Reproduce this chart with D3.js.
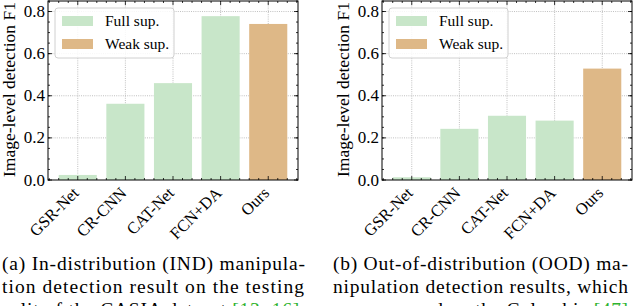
<!DOCTYPE html>
<html lang="en">
<head>
<meta charset="UTF-8">
<title>IND / OOD detection F1</title>
<script src="https://d3js.org/d3.v7.min.js"></script>
<style>
    body { margin: 0; background: #ffffff; }
    svg { display: block; }
    .grid line { stroke: #b0b0b0; stroke-width: 0.8px; stroke-dasharray: 1,1.2; }
</style>
</head>
<body>
<svg width="640" height="306"></svg>
<script>
    // data
    var methods    = ["GSR-Net", "CR-CNN", "CAT-Net", "FCN+DA", "Ours"];
    var supervision = ["full", "full", "full", "full", "weak"];
    var indScores  = [0.024, 0.362, 0.460, 0.778, 0.741];
    var oodScores  = [0.013, 0.243, 0.305, 0.282, 0.529];
    var yTicks     = [0.0, 0.2, 0.4, 0.6, 0.8];
    var legendLabels = ["Full sup.", "Weak sup."];
    var captionA = ["(a) In-distribution (IND) manipula-",
                    "tion detection result on the testing",
                    "split of the CASIA dataset [13, 16]."];
    var captionB = ["(b) Out-of-distribution (OOD) ma-",
                    "nipulation detection results, which",
                    "are measured on the Columbia [47]"];

    var colors = { full: "#c8e6c9", weak: "#deb887" };
    var serif = "'Liberation Serif', 'Times New Roman', Times, serif";

    var svg = d3.select("svg");

    function drawPanel(left, values) {
        var width = 250, height = 179, top = 1;
        var g = svg.append("g").attr("transform", "translate(" + left + "," + top + ")");

        var x = d3.scaleBand().domain(methods).range([0, width])
            .paddingInner(0.2).paddingOuter(0.225);
        var y = d3.scaleLinear().domain([0, 0.85]).range([height, 0]);
        var step = x.step();
        function cx(d) { return x(d) + x.bandwidth() / 2; }

        // grid
        var grid = g.append("g").attr("class", "grid");
        grid.selectAll(".gy").data(yTicks.slice(1)).enter().append("line")
            .attr("x1", 0).attr("x2", width)
            .attr("y1", function(d) { return y(d); })
            .attr("y2", function(d) { return y(d); });
        grid.selectAll(".gx").data(methods).enter().append("line")
            .attr("x1", cx).attr("x2", cx)
            .attr("y1", 0).attr("y2", height);

        // bars
        g.selectAll("rect.bar").data(methods).enter().append("rect")
            .attr("class", "bar")
            .attr("x", function(d) { return x(d); })
            .attr("width", x.bandwidth())
            .attr("y", function(d, i) { return y(values[i]); })
            .attr("height", function(d, i) { return height - y(values[i]); })
            .attr("fill", function(d, i) { return colors[supervision[i]]; });

        // ticks (inward, all four sides)
        var minorY = d3.range(0, 0.851, 0.05);
        var minorX = [];
        methods.forEach(function(m) {
            [-2, -1, 1, 2].forEach(function(k) { minorX.push(cx(m) + k * 0.2 * step); });
        });
        minorX.push(cx(methods[0]) - 3 * 0.2 * step, cx(methods[4]) + 3 * 0.2 * step);
        minorX = minorX.filter(function(v) { return v > 0 && v < width; });

        var tk = g.append("g").attr("stroke", "#000").attr("stroke-width", 0.8);
        minorY.forEach(function(v) {
            tk.append("line").attr("x1", 0).attr("x2", 2).attr("y1", y(v)).attr("y2", y(v));
            tk.append("line").attr("x1", width).attr("x2", width - 2).attr("y1", y(v)).attr("y2", y(v));
        });
        yTicks.forEach(function(v) {
            tk.append("line").attr("x1", 0).attr("x2", 4).attr("y1", y(v)).attr("y2", y(v));
            tk.append("line").attr("x1", width).attr("x2", width - 4).attr("y1", y(v)).attr("y2", y(v));
        });
        minorX.forEach(function(v) {
            tk.append("line").attr("x1", v).attr("x2", v).attr("y1", height).attr("y2", height - 2);
            tk.append("line").attr("x1", v).attr("x2", v).attr("y1", 0).attr("y2", 2);
        });
        methods.forEach(function(m) {
            tk.append("line").attr("x1", cx(m)).attr("x2", cx(m)).attr("y1", height).attr("y2", height - 4);
            tk.append("line").attr("x1", cx(m)).attr("x2", cx(m)).attr("y1", 0).attr("y2", 4);
        });

        // frame
        g.append("rect").attr("width", width).attr("height", height)
            .attr("fill", "none").attr("stroke", "#000").attr("stroke-width", 1);

        // y tick labels
        g.selectAll("text.yt").data(yTicks).enter().append("text")
            .attr("class", "yt")
            .attr("x", -3).attr("y", function(d) { return y(d); })
            .attr("dy", "0.33em")
            .attr("text-anchor", "end")
            .style("font-family", serif)
            .style("font-size", "17px")
            .text(function(d) { return d.toFixed(1); });

        // x tick labels, rotated
        g.selectAll("text.xt").data(methods).enter().append("text")
            .attr("class", "xt")
            .attr("text-anchor", "end")
            .attr("transform", function(d) { return "translate(" + (cx(d) + 2) + "," + (height + 14) + ") rotate(-45)"; })
            .style("font-family", serif)
            .style("font-size", "16.5px")
            .text(function(d) { return d; });

        // y axis label
        g.append("text")
            .attr("transform", "translate(" + (-33) + "," + (height / 2 - 1) + ") rotate(-90)")
            .attr("text-anchor", "middle")
            .style("font-family", serif)
            .style("font-size", "17.5px")
            .text("Image-level detection F1");

        // legend
        var lg = g.append("g").attr("transform", "translate(7,7)");
        lg.append("rect").attr("width", 119).attr("height", 50).attr("rx", 3)
            .attr("fill", "#fff").attr("fill-opacity", 0.85)
            .attr("stroke", "#d0d0d0").attr("stroke-width", 1);
        legendLabels.forEach(function(lab, i) {
            var key = i === 0 ? "full" : "weak";
            lg.append("rect").attr("x", 7).attr("y", 8 + i * 23)
                .attr("width", 31).attr("height", 10)
                .attr("fill", colors[key]);
            lg.append("text").attr("x", 50).attr("y", 13 + i * 23)
                .attr("dy", "0.35em")
                .style("font-family", serif)
                .style("font-size", "15.5px")
                .text(lab);
        });
    }

    drawPanel(48, indScores);
    drawPanel(382, oodScores);

    function drawCaption(x0, lines, widths) {
        lines.forEach(function(line, i) {
            var t = svg.append("text")
                .attr("x", x0).attr("y", 270 + i * 23)
                .style("font-family", serif)
                .style("font-size", "19.5px");
            if (widths[i]) {
                t.attr("textLength", widths[i]).attr("lengthAdjust", "spacing");
            }
            var m = line.match(/^(.*?)(\[[^\]]*\])(.*)$/);
            if (m) {
                t.append("tspan").text(m[1]);
                t.append("tspan").style("fill", "#2fb32f").text(m[2]);
                t.append("tspan").text(m[3]);
            } else {
                t.text(line);
            }
        });
    }

    drawCaption(2, captionA, [303, 302, 303]);
    drawCaption(333, captionB, [295, 295, 295]);
</script>
</body>
</html>
